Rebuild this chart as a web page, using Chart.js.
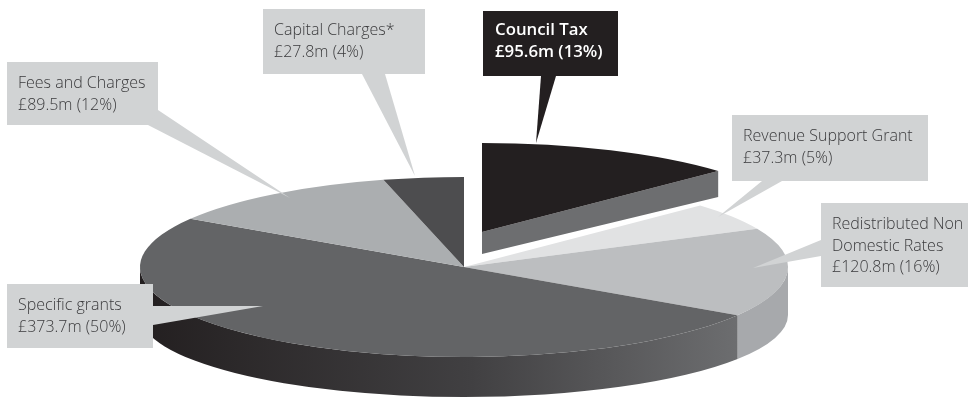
<!DOCTYPE html>
<html>
<head>
<meta charset="utf-8">
<style>
  html, body { margin: 0; padding: 0; background: #fff; }
  canvas { display: block; }
</style>
<script src="https://cdn.jsdelivr.net/npm/chart.js@4"></script>
</head>
<body>
<canvas id="incomeChart" width="968" height="398"></canvas>
<script>
const categories = ["Council Tax", "Revenue Support Grant", "Redistributed Non Domestic Rates", "Specific grants", "Fees and Charges", "Capital Charges*"];
const amounts = [95.6, 37.3, 120.8, 373.7, 89.5, 27.8];
const shares = [13, 5, 16, 50, 12, 4];
const faceColours = ["#231f20", "#e1e2e3", "#bcbec0", "#636466", "#abaeb0", "#4d4d4f"];

// callout boxes, in the same order as the categories
const callouts = [
  { box: [483, 11, 135, 65], text: [495, 35], tail: [[541, 76], [556, 76], [536, 143]], wrap: ["Council Tax"], dark: true },
  { box: [732, 115, 196, 66], text: [743, 141], tail: [[762, 181], [782, 181], [718, 217]], wrap: ["Revenue Support Grant"] },
  { box: [821, 203, 147, 84], text: [832, 229], tail: [[821, 240], [821, 256], [753, 268]], wrap: ["Redistributed Non", "Domestic Rates"] },
  { box: [7, 284, 146, 64], text: [18, 310], tail: [[153, 306], [153, 325], [263, 306]], wrap: ["Specific grants"] },
  { box: [7, 62, 151, 63], text: [18, 88], tail: [[158, 110], [148, 125], [290, 198]], wrap: ["Fees and Charges"] },
  { box: [263, 9, 162, 65], text: [274, 35], tail: [[362, 74], [385, 74], [415, 176]], wrap: ["Capital Charges*"] },
];

// the flat pie gets squashed into an ellipse with a wall underneath
const pie = { x: 464, y: 267, rx: 324, ry: 90, floorY: 315, floorRy: 82 };
const lifted = { index: 0, dx: 18, dy: -35, ry: 89, wallLeft: 22, wallRight: 26 };
const lineHeight = 21.5;

function drawWall(ctx, arc, fill) {
  const from = Math.max(arc.startAngle, 0);
  const to = Math.min(arc.endAngle, Math.PI);
  if (to <= from) return;
  ctx.beginPath();
  ctx.ellipse(pie.x, pie.y, pie.rx, pie.ry, 0, from, to);
  ctx.ellipse(pie.x, pie.floorY, pie.rx, pie.floorRy, 0, to, from, true);
  ctx.closePath();
  ctx.fillStyle = fill;
  ctx.fill();
}

function drawFace(ctx, arc, cx, cy, ry) {
  ctx.save();
  ctx.translate(cx, cy);
  ctx.scale(pie.rx / arc.outerRadius, ry / arc.outerRadius);
  ctx.translate(-arc.x, -arc.y);
  arc.draw(ctx);
  ctx.restore();
}

function drawCallout(ctx, c, i) {
  const fill = c.dark ? "#231f20" : "#d1d3d4";
  ctx.fillStyle = fill;
  ctx.fillRect(c.box[0], c.box[1], c.box[2], c.box[3]);
  ctx.beginPath();
  c.tail.forEach((p, n) => (n ? ctx.lineTo(p[0], p[1]) : ctx.moveTo(p[0], p[1])));
  ctx.closePath();
  ctx.fill();

  const lines = c.wrap.concat(`£${amounts[i]}m (${shares[i]}%)`);
  ctx.fillStyle = c.dark ? "#ffffff" : "#3a3a3c";
  ctx.font = c.dark ? "600 16.8px 'Open Sans'" : "300 16px 'Open Sans'";
  ctx.textBaseline = "alphabetic";
  lines.forEach((line, n) => ctx.fillText(line, c.text[0], c.text[1] + n * lineHeight));
}

const tiltedPie = {
  id: "tiltedPie",
  // arcs are painted below, after the walls
  beforeDatasetDraw() {
    return false;
  },
  afterDatasetsDraw(chart) {
    const ctx = chart.ctx;
    const arcs = chart.getDatasetMeta(0).data;

    const shade = ctx.createLinearGradient(140, 0, 741, 0);
    shade.addColorStop(0, "#231f20");
    shade.addColorStop(0.55, "#414042");
    shade.addColorStop(1, "#6d6e70");
    drawWall(ctx, arcs[2], "#a7a9ac");
    drawWall(ctx, arcs[3], shade);

    arcs.forEach((arc, i) => {
      if (i !== lifted.index) drawFace(ctx, arc, pie.x, pie.y, pie.ry);
    });

    // Council Tax sits pulled out of the pie, with its cut side showing
    const arc = arcs[lifted.index];
    const ax = pie.x + lifted.dx;
    const ay = pie.y + lifted.dy;
    const ex = ax + pie.rx * Math.cos(arc.endAngle);
    const ey = ay + lifted.ry * Math.sin(arc.endAngle);
    ctx.fillStyle = "#6d6e70";
    ctx.beginPath();
    ctx.moveTo(ax, ay);
    ctx.lineTo(ex, ey);
    ctx.lineTo(ex, ey + lifted.wallRight);
    ctx.lineTo(ax, ay + lifted.wallLeft);
    ctx.closePath();
    ctx.fill();
    drawFace(ctx, arc, ax, ay, lifted.ry);

    callouts.forEach((c, i) => drawCallout(ctx, c, i));
  },
};

const chartCtx = document.getElementById("incomeChart").getContext("2d");
new Chart(chartCtx, {
  type: "pie",
  data: {
    labels: categories,
    datasets: [{ data: shares, backgroundColor: faceColours, borderWidth: 0, clip: false }],
  },
  options: {
    responsive: false,
    animation: false,
    events: [],
    plugins: { legend: { display: false }, tooltip: { enabled: false } },
  },
  plugins: [tiltedPie],
});
</script>
</body>
</html>
